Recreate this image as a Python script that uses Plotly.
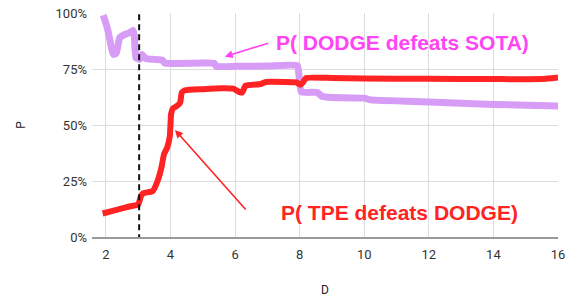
import plotly.graph_objects as go

# --- data ---
d_dodge = [1.92, 2.05, 2.15, 2.23, 2.32, 2.43, 2.6, 2.74, 2.84, 2.88, 2.93, 3.05, 3.12, 3.2, 3.3, 3.5,
           3.75, 3.82, 4.2, 5.0, 5.35, 5.42, 6.0, 7.0, 7.93, 7.98, 8.05, 8.55, 8.7, 9.0, 10.0, 10.2,
           12.0, 14.0, 16.0]
p_dodge = [0.99, 0.93, 0.86, 0.815, 0.82, 0.89, 0.905, 0.912, 0.922, 0.90, 0.80, 0.793, 0.815, 0.80,
           0.795, 0.793, 0.79, 0.776, 0.775, 0.777, 0.776, 0.762, 0.762, 0.763, 0.765, 0.72, 0.648,
           0.645, 0.627, 0.623, 0.62, 0.612, 0.603, 0.592, 0.585]

d_tpe = [1.9, 2.3, 2.7, 3.0, 3.08, 3.15, 3.45, 3.6, 3.72, 3.8, 3.9, 3.98, 4.02, 4.08, 4.2, 4.3, 4.35,
         4.45, 5.0, 5.6, 5.95, 6.12, 6.22, 6.32, 6.8, 6.95, 7.5, 7.9, 8.02, 8.1, 8.2, 9.0, 10.0, 12.0,
         14.0, 15.5, 16.0]
p_tpe = [0.105, 0.12, 0.135, 0.145, 0.18, 0.195, 0.205, 0.25, 0.31, 0.37, 0.40, 0.45, 0.55, 0.575,
         0.585, 0.60, 0.645, 0.655, 0.66, 0.664, 0.662, 0.648, 0.645, 0.675, 0.683, 0.692, 0.692,
         0.69, 0.68, 0.69, 0.71, 0.71, 0.708, 0.706, 0.705, 0.705, 0.712]

d_marker = [3.03, 3.03]
p_marker = [-0.015, 1.0]

x_ticks = [2, 4, 6, 8, 10, 12, 14, 16]
y_ticks = [0, 0.25, 0.5, 0.75, 1.0]
y_tick_labels = ["0%", "25%", "50%", "75%", "100%"]

label_dodge = "P( DODGE defeats SOTA)"
label_tpe = "P( TPE defeats DODGE)"

PURPLE = "#d79cf6"
RED = "#ff2323"
MAGENTA = "#ff44f4"

fig = go.Figure()
fig.add_trace(go.Scatter(x=d_dodge, y=p_dodge, mode="lines",
                         line=dict(color=PURPLE, width=7, shape="spline", smoothing=0.4),
                         showlegend=False))
fig.add_trace(go.Scatter(x=d_tpe, y=p_tpe, mode="lines",
                         line=dict(color=RED, width=6, shape="spline", smoothing=0.4),
                         showlegend=False))
fig.add_trace(go.Scatter(x=d_marker, y=p_marker, mode="lines", cliponaxis=False,
                         line=dict(color="#111111", width=2, dash="6px,4px"), showlegend=False))

ann_font = dict(family="Liberation Sans, Arial, sans-serif", size=21)
fig.add_annotation(x=11.2, y=0.87, xref="x", yref="y", text="<b>%s</b>" % label_dodge,
                   showarrow=False, font=dict(color=MAGENTA, **ann_font))
fig.add_annotation(x=5.68, y=0.805, xref="x", yref="y", text="", showarrow=True,
                   ax=45, ay=-14, arrowhead=2, arrowsize=1, arrowwidth=1.6, arrowcolor=MAGENTA)
fig.add_annotation(x=11.1, y=0.109, xref="x", yref="y", text="<b>%s</b>" % label_tpe,
                   showarrow=False, font=dict(color=RED, **ann_font))
fig.add_annotation(x=4.14, y=0.478, xref="x", yref="y", text="", showarrow=True,
                   ax=72, ay=81, arrowhead=2, arrowsize=1, arrowwidth=1.6, arrowcolor=RED)

fig.update_layout(
    width=566, height=297,
    margin=dict(l=92, r=8, t=13, b=60),
    paper_bgcolor="white", plot_bgcolor="white",
    font=dict(family="Roboto, sans-serif", size=13, color="#333333"),
)
fig.update_xaxes(range=[1.57, 16], tickvals=x_ticks, showgrid=True, gridcolor="#dcdcdc",
                 gridwidth=1, zeroline=False, showline=True, linecolor="#9a9a9a", linewidth=1.5,
                 ticks="", ticklabeloverflow="allow", automargin=False, ticklabelstandoff=5,
                 title=dict(text="D", font=dict(size=12, color="#222222"), standoff=24))
fig.update_yaxes(range=[0, 1.0], tickvals=y_ticks, ticktext=y_tick_labels, showgrid=True,
                 gridcolor="#dcdcdc", gridwidth=1, zeroline=False, ticks="",
                 ticklabeloverflow="allow", automargin=False, ticklabelstandoff=4,
                 title=dict(text="P", font=dict(size=12, color="#222222"), standoff=27))

fig.write_html(
    "out.html",
    config={"displayModeBar": False},
    post_script="document.body.style.margin='0';document.documentElement.style.overflow='hidden';",
)
